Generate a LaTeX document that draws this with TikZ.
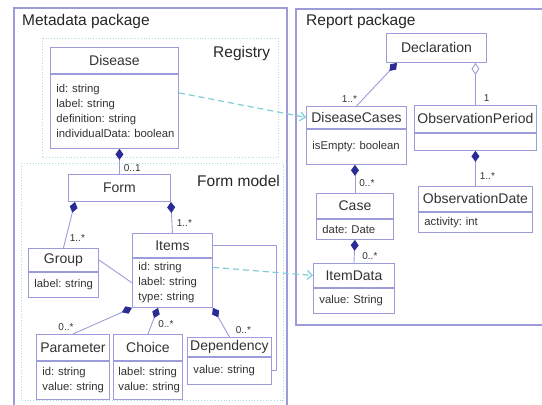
\documentclass[tikz,border=0pt]{standalone}
\usepackage{fontspec}
\setmainfont{Liberation Sans}
\usetikzlibrary{arrows.meta}
\definecolor{umlline}{HTML}{9C9CDC}
\definecolor{umldiamond}{HTML}{2B2B95}
\definecolor{pkgdot}{HTML}{A8DDE0}
\definecolor{deparrow}{HTML}{80CDD6}
\definecolor{umltext}{HTML}{333333}
\tikzset{
  pkgbox/.style={draw=umlline, line width=1.4pt},
  subpkg/.style={draw=pkgdot, line width=0.8pt, dotted},
  pkgtitle/.style={anchor=west, inner sep=0pt, font=\fontsize{15.5}{18}\selectfont, text=black!85},
  clsname/.style={draw=umlline, fill=white, line width=0.9pt, anchor=north west, inner sep=0pt, font=\fontsize{14}{16}\selectfont, text=umltext},
  clsattr/.style={draw=umlline, fill=white, line width=0.9pt, anchor=north west, inner xsep=6pt, inner ysep=0pt, align=left,
    font=\fontsize{11.3}{15}\selectfont\frenchspacing, text=umltext},
  compose/.style={draw=umlline, line width=0.9pt, {Diamond[color=umldiamond, fill=umldiamond, length=11pt, width=8pt]}-},
  aggregate/.style={draw=umlline, line width=0.9pt, {Diamond[open, fill=white, length=12pt, width=8pt]}-},
  assoc/.style={draw=umlline, line width=0.9pt},
  depend/.style={draw=deparrow, line width=1.2pt, dash pattern=on 6pt off 4pt, -{Straight Barb[length=5pt, width=9pt]}},
  mult/.style={font=\fontsize{10}{12}\selectfont, text=umltext, inner sep=1pt, pos=1, anchor=south west, xshift=3pt, yshift=2pt}
}

\begin{document}
\begin{tikzpicture}[x=1pt, y=-1pt]
  \useasboundingbox (0,0) rectangle (542,405);

  % packages
  \draw[pkgbox] (14,8) rectangle (287,412);
  \draw[pkgbox] (296,9) rectangle (550,325);
  \draw[subpkg] (42,38) rectangle (278,157);
  \draw[subpkg] (21,163) rectangle (283,400);
  \node[pkgtitle] (metatitle) at (22,21) {Metadata package};
  \node[pkgtitle] (reporttitle) at (306,21) {Report package};
  \node[pkgtitle] (registrytitle) at (213,53) {Registry};
  \node[pkgtitle] (formmodeltitle) at (197,181) {Form model};

  % metadata classes
  \node[clsname, minimum width=128pt, minimum height=26pt] (disease) at (50,47) {Disease};
  \node[clsattr, minimum width=128pt, text width=116pt, minimum height=74pt] (disease-attr) at (disease.south west)
    {id:~string\\label:~string\\definition:~string\\individualData:~boolean};
  \node[clsname, minimum width=102pt, minimum height=27pt] (form) at (68,174) {Form};
  \node[clsname, minimum width=70pt, minimum height=23pt] (group) at (28,248) {Group};
  \node[clsattr, minimum width=70pt, text width=58pt, minimum height=25pt] (group-attr) at (group.south west) {label:~string};
  \node[clsname, minimum width=80pt, minimum height=24pt] (items) at (132,233) {Items};
  \node[clsattr, minimum width=80pt, text width=68pt, minimum height=49pt] (items-attr) at (items.south west)
    {id:~string\\label:~string\\type:~string};
  \node[clsname, minimum width=73pt, minimum height=26pt] (param) at (36,334) {Parameter};
  \node[clsattr, minimum width=73pt, text width=61pt, minimum height=38pt] (param-attr) at (param.south west)
    {id:~string\\value:~string};
  \node[clsname, minimum width=69pt, minimum height=26pt] (choice) at (113,334) {Choice};
  \node[clsattr, minimum width=69pt, text width=59pt, inner xsep=5pt, minimum height=38pt] (choice-attr) at (choice.south west)
    {label:~string\\value:~string};
  \node[clsname, minimum width=84pt, minimum height=19pt] (dependency) at (187,337) {Dependency};
  \node[clsattr, minimum width=84pt, text width=72pt, minimum height=27pt] (dependency-attr) at (dependency.south west)
    {value:~string};

  % report classes
  \node[clsname, minimum width=100pt, minimum height=29pt] (declaration) at (386,33) {Declaration};
  \node[clsname, minimum width=100pt, minimum height=22pt] (dcases) at (306,106) {DiseaseCases};
  \node[clsattr, minimum width=100pt, text width=88pt, minimum height=35pt] (dcases-attr) at (dcases.south west)
    {isEmpty:~boolean};
  \node[clsname, minimum width=122pt, minimum height=27pt] (obsperiod) at (414,105) {ObservationPeriod};
  \node[clsattr, minimum width=122pt, text width=110pt, minimum height=17pt] (obsperiod-attr) at (obsperiod.south west) {};
  \node[clsname, minimum width=77pt, minimum height=25pt] (case) at (316,193) {Case};
  \node[clsattr, minimum width=77pt, text width=65pt, minimum height=20pt] (case-attr) at (case.south west) {date:~Date};
  \node[clsname, minimum width=81pt, minimum height=24pt] (itemdata) at (313,263) {ItemData};
  \node[clsattr, minimum width=81pt, text width=69pt, minimum height=25pt] (itemdata-attr) at (itemdata.south west) {value:~String};
  \node[clsname, minimum width=114pt, minimum height=25pt] (obsdate) at (418,186) {ObservationDate};
  \node[clsattr, minimum width=114pt, text width=102pt, minimum height=20pt] (obsdate-attr) at (obsdate.south west) {activity:~int};

  % metadata links
  \draw[compose] (disease-attr.south -| form.north) -- (form.north) node[mult, yshift=-1pt] {0..1};
  \draw[compose] ([xshift=7pt]form.south west) -- (group.north) node[mult, xshift=2pt, yshift=3pt] {1..*};
  \draw[compose] (form.south east) -- (items.north) node[mult, yshift=3pt] {1..*};
  \draw[assoc] (group.east) -- (items-attr.west);
  \draw[compose] (items-attr.south west) -- (param.north) node[mult, anchor=south east, xshift=-1pt, yshift=0pt] {0..*};
  \draw[compose] ([xshift=26pt]items-attr.south west) -- (choice.north) node[mult, xshift=6pt, yshift=3pt] {0..*};
  \draw[compose] (items-attr.south east) -- (dependency.north) node[mult, xshift=2pt] {0..*};
  \draw[assoc] (items.east) -- ++(64,0) |- (dependency-attr.east);

  % report links
  \draw[compose] ([xshift=11pt]declaration.south west) -- (dcases.north) node[mult, anchor=south east, xshift=-1pt] {1..*};
  \draw[aggregate] (obsperiod.north |- declaration.south) -- (obsperiod.north) node[mult, xshift=4pt] {1};
  \draw[compose] (case.north |- dcases-attr.south) -- (case.north) node[mult, yshift=3pt] {0..*};
  \draw[compose] (case-attr.south) -- (itemdata.north) node[mult, xshift=4pt] {0..*};
  \draw[compose] (obsperiod-attr.south) -- (obsdate.north) node[mult, yshift=3pt] {1..*};

  % dependencies
  \draw[depend] (disease-attr.16) -- (dcases.west);
  \draw[depend] (items-attr.21) -- (itemdata.west);
\end{tikzpicture}
\end{document}
